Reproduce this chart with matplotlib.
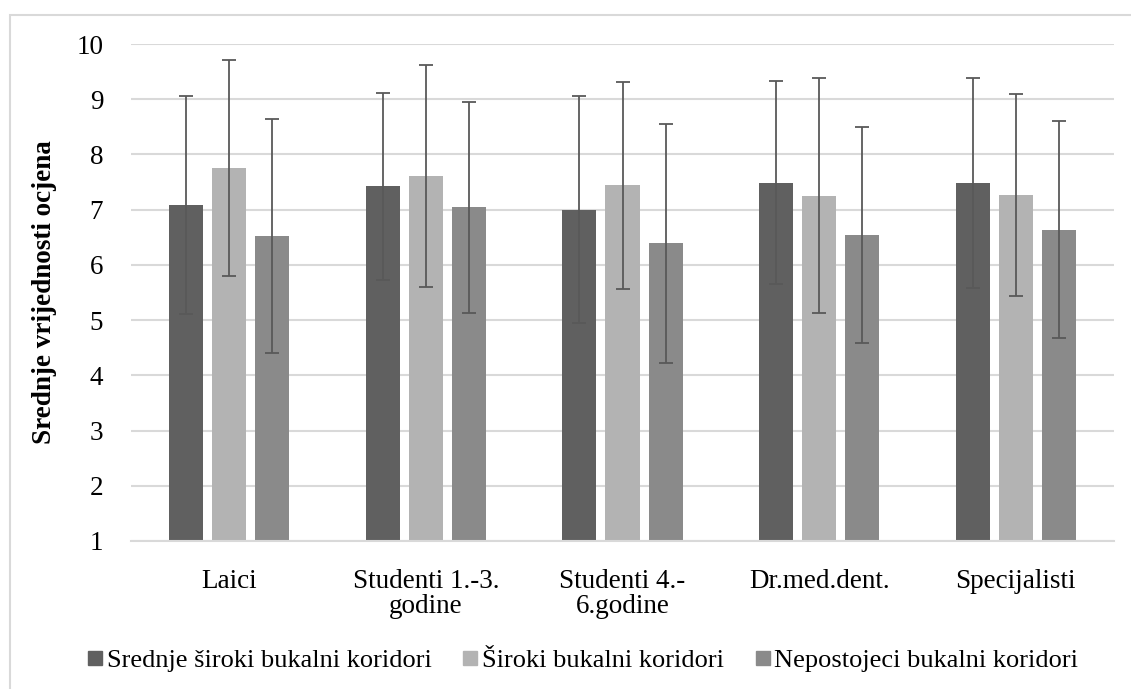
import numpy as np
import matplotlib.pyplot as plt
from matplotlib.patches import Rectangle
from matplotlib.lines import Line2D

categories = ['Laici', 'Studenti 1.-3.\ngodine', 'Studenti 4.-\n6.godine', 'Dr.med.dent.', 'Specijalisti']
series_names = ['Srednje široki bukalni koridori', 'Široki bukalni koridori', 'Nepostojeci bukalni koridori']

srednje_mean = [7.08, 7.42, 7.00, 7.49, 7.48]
srednje_sd = [1.97, 1.70, 2.05, 1.84, 1.90]
siroki_mean = [7.75, 7.61, 7.44, 7.25, 7.26]
siroki_sd = [1.96, 2.01, 1.88, 2.13, 1.83]
nepost_mean = [6.53, 7.04, 6.39, 6.54, 6.64]
nepost_sd = [2.12, 1.91, 2.16, 1.96, 1.97]

colors = ['#606060', '#b3b3b3', '#8a8a8a']

plt.rcParams['font.family'] = ['Liberation Serif', 'DejaVu Serif']

W, H = 1131, 689
fig = plt.figure(figsize=(W / 100, H / 100), dpi=100)

# light outer frame like the Excel chart area
fig.patches.append(Rectangle((10 / W, -0.1), 1.2, 1 - 15 / H + 0.1, transform=fig.transFigure,
                             fill=False, edgecolor='#d9d9d9', linewidth=1.5))

ax = fig.add_axes([131 / W, (H - 541) / H, 983 / W, 497 / H])

x = np.arange(len(categories))
width = 0.173
step = 0.219
means = [srednje_mean, siroki_mean, nepost_mean]
sds = [srednje_sd, siroki_sd, nepost_sd]
for i, (m, s) in enumerate(zip(means, sds)):
    ax.bar(x + (i - 1) * step, m, width, color=colors[i], zorder=2,
           yerr=s, error_kw=dict(ecolor='#595959', elinewidth=1.3, capsize=5, capthick=1.3, zorder=3))

ax.set_xlim(-0.5, len(categories) - 0.5)
ax.set_ylim(1, 10)
ax.set_yticks(range(1, 11))
ax.set_xticks(x)
ax.set_xticklabels(categories, linespacing=1.0)
ax.tick_params(axis='both', length=0, labelsize=19.5, labelcolor='black')
ax.tick_params(axis='y', pad=20)
ax.tick_params(axis='x', pad=20)
ax.grid(axis='y', color='#d9d9d9', linewidth=1.5, zorder=0)
for sp in ['top', 'right', 'left']:
    ax.spines[sp].set_visible(False)
ax.spines['bottom'].set_color('#d9d9d9')
ax.spines['bottom'].set_linewidth(1.5)

ax.set_ylabel('Srednje vrijednosti ocjena', fontsize=19.5, fontweight='bold', labelpad=14)

handles = [Line2D([0], [0], marker='s', linestyle='none', markersize=10,
                  markerfacecolor=c, markeredgecolor=c) for c in colors]
fig.legend(handles, series_names, loc='center', bbox_to_anchor=(581 / W, 1 - 660 / H),
           ncol=3, frameon=False, fontsize=19, handletextpad=0.0, columnspacing=1.0,
           handlelength=0.9)

fig.savefig('out.png', dpi=100)
